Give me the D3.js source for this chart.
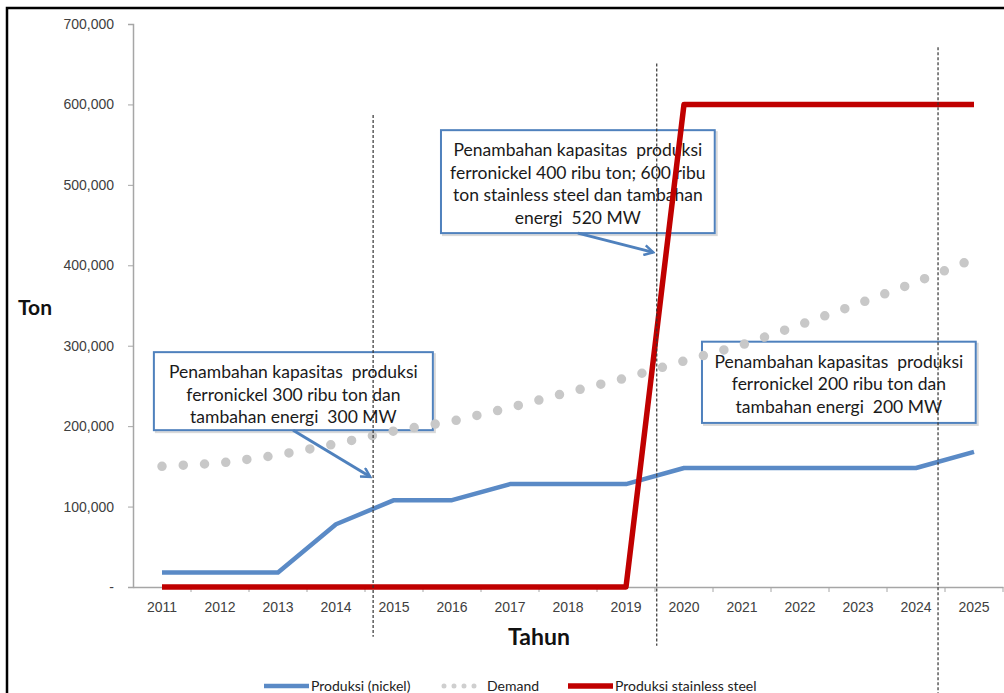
<!DOCTYPE html>
<html>
<head>
<meta charset="utf-8">
<script src="https://cdn.jsdelivr.net/npm/d3@7"></script>
<style>
  body { margin: 0; background: #fff; }
  svg { display: block; font-family: Lato, "Open Sans", sans-serif; }
</style>
</head>
<body>
<script>
// chart values
var years = ["2011","2012","2013","2014","2015","2016","2017","2018","2019","2020","2021","2022","2023","2024","2025"];
var nickel = [18000,18000,18000,78000,108000,108000,128000,128000,128000,148000,148000,148000,148000,148000,168000];
var demand = [150000,154000,164000,178000,194000,206000,223000,242000,260000,281000,301000,326000,352000,379000,408000];
var stainless = [0,0,0,0,0,0,0,0,0,600000,600000,600000,600000,600000,600000];
var yTicks = [0,100000,200000,300000,400000,500000,600000,700000];

// callouts (year as fractional position, values in ton)
var notes = [
  {x0: 2010.86, x1: 2015.67, top: 292000, bottom: 195000,
   lines: ["Penambahan kapasitas  produksi", "ferronickel 300 ribu ton dan", "tambahan energi  300 MW"],
   arrow: [[2013.26, 195000], [2014.59, 137000]]},
  {x0: 2015.81, x1: 2020.53, top: 568000, bottom: 440000,
   lines: ["Penambahan kapasitas  produksi", "ferronickel 400 ribu ton; 600 ribu", "ton stainless steel dan tambahan", "energi  520 MW"],
   arrow: [[2018.17, 440000], [2019.47, 416000]]},
  {x0: 2020.31, x1: 2025.03, top: 305000, bottom: 204000,
   lines: ["Penambahan kapasitas  produksi", "ferronickel 200 ribu ton dan", "tambahan energi  200 MW"],
   arrow: null}
];
var markers = [
  {year: 2014.64, from: 587000, to: -62000},
  {year: 2019.53, from: 651000, to: -73000},
  {year: 2024.38, from: 671000, to: -140000}
];

var W = 1004, H = 693;
var svg = d3.select("body").append("svg")
    .attr("width", W)
    .attr("height", H);

// frame (top and left edge of the screenshot)
svg.append("path")
    .attr("d", "M7," + H + "V8H" + W)
    .attr("fill", "none")
    .attr("stroke", "#000")
    .attr("stroke-width", 2.5);

var x = d3.scaleBand().domain(years).range([133, 1003]);
var xl = d3.scaleLinear().domain([2011, 2025])
    .range([x("2011") + x.bandwidth() / 2, x("2025") + x.bandwidth() / 2]);
var y = d3.scaleLinear().domain([0, 700000]).range([587, 24]);

// y axis
var yAxis = svg.append("g")
    .attr("transform", "translate(133,0)")
    .call(d3.axisLeft(y).tickValues(yTicks).tickSize(5).tickPadding(14)
        .tickFormat(function(d) { return d === 0 ? "-" : d3.format(",")(d); }));
yAxis.select(".domain").attr("stroke", "#a6a6a6").attr("stroke-width", 1.5);
yAxis.selectAll(".tick line").attr("stroke", "#a6a6a6");
yAxis.selectAll("text").attr("fill", "#404040").style("font-size", "14px");

// x axis: labels in band centers, tick marks at band edges
var xAxis = svg.append("g")
    .attr("transform", "translate(0,587)")
    .call(d3.axisBottom(x).tickSize(0).tickPadding(15));
xAxis.select(".domain").attr("stroke", "#a6a6a6").attr("stroke-width", 1.5);
xAxis.selectAll("text").attr("fill", "#404040").style("font-size", "14px");
xAxis.selectAll(".edge")
    .data(years)
    .enter().append("line")
    .attr("x1", function(d) { return x(d) + x.bandwidth(); })
    .attr("x2", function(d) { return x(d) + x.bandwidth(); })
    .attr("y1", 0).attr("y2", 5)
    .attr("stroke", "#a6a6a6");

// axis titles
svg.append("text")
    .attr("x", 18).attr("y", 315)
    .style("font-size", "21px").style("font-weight", "bold")
    .attr("fill", "#111")
    .text("Ton");
svg.append("text")
    .attr("x", 539).attr("y", 645)
    .attr("text-anchor", "middle")
    .style("font-size", "23px").style("font-weight", "bold")
    .attr("fill", "#111")
    .text("Tahun");

// callout boxes
var noteG = svg.selectAll(".note")
    .data(notes)
    .enter().append("g")
    .attr("class", "note");
noteG.append("rect")
    .attr("x", function(d) { return xl(d.x0) + 2; })
    .attr("y", function(d) { return y(d.top) + 2; })
    .attr("width", function(d) { return xl(d.x1) - xl(d.x0); })
    .attr("height", function(d) { return y(d.bottom) - y(d.top); })
    .attr("fill", "none")
    .attr("stroke", "#d9d9d9")
    .attr("stroke-width", 2);
noteG.append("rect")
    .attr("x", function(d) { return xl(d.x0); })
    .attr("y", function(d) { return y(d.top); })
    .attr("width", function(d) { return xl(d.x1) - xl(d.x0); })
    .attr("height", function(d) { return y(d.bottom) - y(d.top); })
    .attr("fill", "#fff")
    .attr("stroke", "#4f81bd")
    .attr("stroke-width", 2);
noteG.each(function(d) {
    var g = d3.select(this);
    var cx = (xl(d.x0) + xl(d.x1)) / 2;
    d.lines.forEach(function(t, i) {
        g.append("text")
            .attr("x", cx)
            .attr("y", y(d.top) + 26 + i * 22.5)
            .attr("text-anchor", "middle")
            .attr("fill", "#1a1a1a")
            .style("font-size", "17.5px")
            .style("white-space", "pre")
            .text(t);
    });
});

// series
var line = d3.line()
    .x(function(d, i) { return x(years[i]) + x.bandwidth() / 2; })
    .y(function(d) { return y(d); });

svg.append("path")
    .datum(demand)
    .attr("d", line)
    .attr("fill", "none")
    .attr("stroke", "#c8c8c8")
    .attr("stroke-width", 9.5)
    .attr("stroke-linecap", "round")
    .attr("stroke-dasharray", "0 21.3");

svg.append("path")
    .datum(nickel)
    .attr("d", line)
    .attr("fill", "none")
    .attr("stroke", "#5a8ac6")
    .attr("stroke-width", 4.5)
    .attr("stroke-linejoin", "round");

svg.append("path")
    .datum(stainless)
    .attr("d", line)
    .attr("fill", "none")
    .attr("stroke", "#c00000")
    .attr("stroke-width", 5.5)
    .attr("stroke-linejoin", "round");

// dashed year markers
svg.selectAll(".marker")
    .data(markers)
    .enter().append("line")
    .attr("class", "marker")
    .attr("x1", function(d) { return xl(d.year); })
    .attr("x2", function(d) { return xl(d.year); })
    .attr("y1", function(d) { return y(d.from); })
    .attr("y2", function(d) { return y(d.to); })
    .attr("stroke", "#333")
    .attr("stroke-width", 1.2)
    .attr("stroke-dasharray", "3 2");

// arrows
svg.append("defs").append("marker")
    .attr("id", "head")
    .attr("viewBox", "0 0 12 12")
    .attr("refX", 10).attr("refY", 6)
    .attr("markerWidth", 12).attr("markerHeight", 12)
    .attr("markerUnits", "userSpaceOnUse")
    .attr("orient", "auto")
    .append("path")
    .attr("d", "M1,1 L10,6 L1,11")
    .attr("fill", "none")
    .attr("stroke", "#4f81bd")
    .attr("stroke-width", 2.5);

svg.selectAll(".arrow")
    .data(notes.filter(function(d) { return d.arrow; }))
    .enter().append("line")
    .attr("class", "arrow")
    .attr("x1", function(d) { return xl(d.arrow[0][0]); })
    .attr("y1", function(d) { return y(d.arrow[0][1]); })
    .attr("x2", function(d) { return xl(d.arrow[1][0]); })
    .attr("y2", function(d) { return y(d.arrow[1][1]); })
    .attr("stroke", "#4f81bd")
    .attr("stroke-width", 3)
    .attr("marker-end", "url(#head)");

// legend
var legend = [
  {name: "Produksi (nickel)", x: 264, color: "#5a8ac6", w: 4.5, dash: null, len: 45},
  {name: "Demand", x: 442, color: "#cfcfcf", w: 5, dash: "0 10", len: 36},
  {name: "Produksi stainless steel", x: 568, color: "#c00000", w: 5.5, dash: null, len: 45}
];
var lg = svg.selectAll(".legend")
    .data(legend)
    .enter().append("g")
    .attr("class", "legend")
    .attr("transform", function(d) { return "translate(" + d.x + ",686)"; });
lg.append("line")
    .attr("x1", function(d) { return d.dash ? 2 : 0; })
    .attr("x2", function(d) { return d.len; })
    .attr("stroke", function(d) { return d.color; })
    .attr("stroke-width", function(d) { return d.w; })
    .attr("stroke-linecap", function(d) { return d.dash ? "round" : "butt"; })
    .attr("stroke-dasharray", function(d) { return d.dash; });
lg.append("text")
    .attr("x", function(d) { return d.len + (d.dash ? 9 : 2); })
    .attr("y", 5)
    .attr("fill", "#222")
    .style("font-size", "14px")
    .text(function(d) { return d.name; });
</script>
</body>
</html>
